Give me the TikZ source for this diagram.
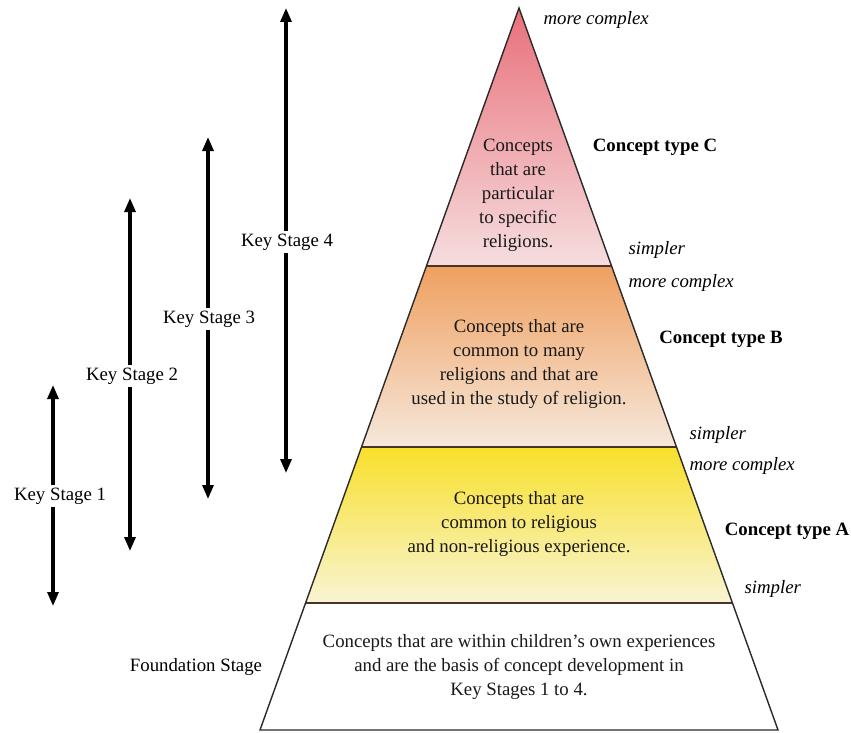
\documentclass[tikz,border=0pt]{standalone}
\usepackage{fontspec}
\setmainfont{Liberation Serif}
\usetikzlibrary{arrows.meta}
\definecolor{cTop}{HTML}{E8707A}
\definecolor{cBot}{HTML}{F6DEDF}
\definecolor{bTop}{HTML}{EFA060}
\definecolor{bBot}{HTML}{F6E8DC}
\definecolor{aTop}{HTML}{F8E02A}
\definecolor{aBot}{HTML}{F8F4D4}
\definecolor{edge}{HTML}{2A2A2A}
\definecolor{sep}{HTML}{4A3428}
\tikzset{
  bandtext/.style={align=center, font=\fontsize{18.8}{24}\selectfont, text=black!90},
  hint/.style={font=\fontsize{18.8}{20}\selectfont\itshape, anchor=west},
  ctype/.style={font=\fontsize{18.8}{20}\selectfont\bfseries},
  kslabel/.style={font=\fontsize{18.8}{20}\selectfont, fill=white, inner sep=3pt},
  ksup/.style={line width=3.2pt, -{Triangle[length=14pt,width=11pt]}},
}
\begin{document}
\begin{tikzpicture}[x=1pt,y=-1pt]
\useasboundingbox (0,0) rectangle (851,733);
% pyramid geometry
\coordinate (apex) at (519,8);
\coordinate (cL) at (426.5,266); \coordinate (cR) at (612,266);
\coordinate (bL) at (362,447);   \coordinate (bR) at (677,447);
\coordinate (aL) at (306,603);   \coordinate (aR) at (732,603);
\coordinate (fL) at (260,730);   \coordinate (fR) at (778,730);
% bands
\shade[top color=cTop, bottom color=cBot] (apex) -- (cR) -- (cL) -- cycle;
\shade[top color=bTop, bottom color=bBot] (cL) -- (cR) -- (bR) -- (bL) -- cycle;
\shade[top color=aTop, bottom color=aBot] (bL) -- (bR) -- (aR) -- (aL) -- cycle;
\fill[white] (aL) -- (aR) -- (fR) -- (fL) -- cycle;
\draw[sep, line width=1.6pt] (cL) -- (cR) (bL) -- (bR) (aL) -- (aR);
\draw[edge, line width=1.4pt, line join=miter] (apex) -- (fR) -- (fL) -- cycle;
% band texts
\node[bandtext] (tc) at (518,195) {Concepts\\that are\\particular\\to specific\\religions.};
\node[bandtext] (tb) at (519,364) {Concepts that are\\common to many\\religions and that are\\used in the study of religion.};
\node[bandtext] (ta) at (519,524) {Concepts that are\\common to religious\\and non-religious experience.};
\node[bandtext] (tf) at (519,667) {Concepts that are within children’s own experiences\\and are the basis of concept development in\\Key Stages 1 to 4.};
% right side labels
\node[hint] (mc1) at (540,20) {more complex};
\node[ctype] (ctc) at (655,147) {Concept type C};
\node[hint] (s1) at (625,250) {simpler};
\node[hint] (mc2) at (625,283) {more complex};
\node[ctype] (ctb) at (721,339) {Concept type B};
\node[hint] (s2) at (686,435) {simpler};
\node[hint] (mc3) at (686,466) {more complex};
\node[ctype] (cta) at (787,531) {Concept type A};
\node[hint] (s3) at (741,589) {simpler};
% key stage arrows
\coordinate (k1t) at (53,385); \coordinate (k1b) at (53,606);
\coordinate (k2t) at (130,198); \coordinate (k2b) at (130,551);
\coordinate (k3t) at (208,137); \coordinate (k3b) at (208,499);
\coordinate (k4t) at (286,8);   \coordinate (k4b) at (286,473);
\draw[ksup] (53,495) -- (k1t);
\draw[ksup] (53,495) -- (k1b);
\draw[ksup] (130,374) -- (k2t);
\draw[ksup] (130,374) -- (k2b);
\draw[ksup] (208,316) -- (k3t);
\draw[ksup] (208,316) -- (k3b);
\draw[ksup] (286,240) -- (k4t);
\draw[ksup] (286,240) -- (k4b);
\node[kslabel] (ks1) at (60,496) {Key Stage 1};
\node[kslabel] (ks2) at (132,376) {Key Stage 2};
\node[kslabel] (ks3) at (209,319) {Key Stage 3};
\node[kslabel] (ks4) at (287,242) {Key Stage 4};
\node[font=\fontsize{18.8}{20}\selectfont] (fs) at (196,667) {Foundation Stage};
\end{tikzpicture}
\end{document}
